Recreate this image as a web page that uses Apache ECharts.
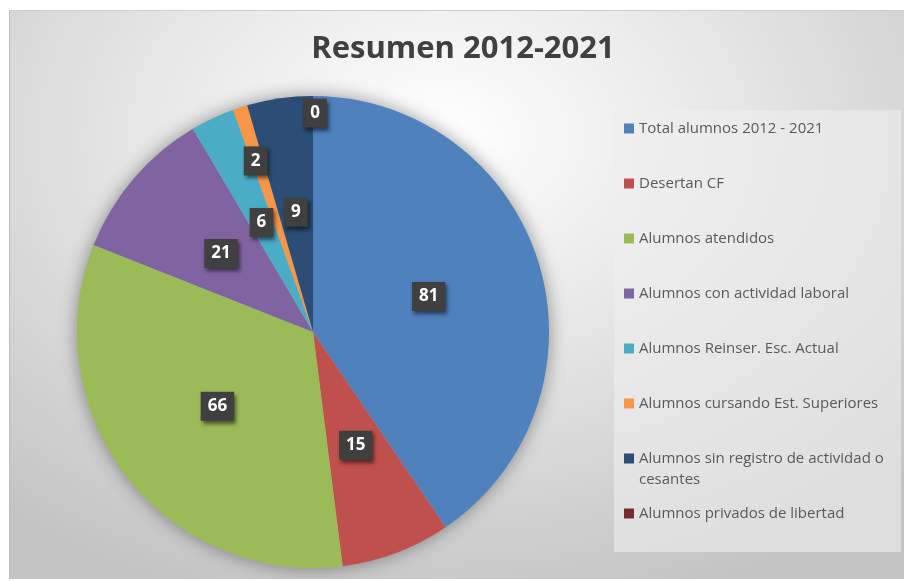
<!DOCTYPE html>
<html>
<head>
<meta charset="utf-8">
<script src="https://cdn.jsdelivr.net/npm/echarts@6/dist/echarts.min.js"></script>
<style>
  html, body { margin: 0; padding: 0; background: #ffffff; }
  #frame {
    position: absolute; left: 9px; top: 10px; width: 895px; height: 569px;
    background: radial-gradient(ellipse 75% 85% at 48% 22%, #ffffff 0%, #e6e6e6 45%, #c4c4c4 100%);
    border-left: 1px solid #bdbdbd; border-top: 1px solid #cfcfcf;
    box-sizing: border-box;
  }
  #echart-pie { width: 100%; height: 100%; }
</style>
</head>
<body>
<div id="frame"><div id="echart-pie"></div></div>
<script>
// categorías y valores
var categories = [
  'Total alumnos 2012 - 2021',
  'Desertan CF',
  'Alumnos atendidos',
  'Alumnos con actividad laboral',
  'Alumnos Reinser. Esc. Actual',
  'Alumnos cursando Est. Superiores',
  'Alumnos sin registro de actividad o cesantes',
  'Alumnos privados de libertad'
];
var values = [81, 15, 66, 21, 6, 2, 9, 0];
var colors = ['#4F81BD', '#C0504D', '#9BBB59', '#8064A2', '#4BACC6', '#F79646', '#2C4D75', '#772C2A'];

var getchart = echarts.init(document.getElementById('echart-pie'));

var pieData = categories.map(function (name, i) {
  return { name: name, value: values[i], itemStyle: { color: colors[i] } };
});

var legendText = {
  fontFamily: 'Open Sans',
  fontSize: 15,
  color: '#595959',
  width: 258,
  overflow: 'break',
  lineHeight: 21
};

var option = {
  backgroundColor: 'transparent',
  animation: false,
  title: {
    text: 'Resumen 2012-2021',
    left: 448,
    textAlign: 'center',
    top: 18,
    textStyle: {
      fontFamily: 'Open Sans',
      fontSize: 31,
      fontWeight: 'bold',
      color: '#404040'
    }
  },
  // tres leyendas para que la entrada de dos líneas quede alineada como en Excel
  legend: [
    {
      orient: 'vertical',
      left: 604,
      top: 99,
      data: categories.slice(0, 6),
      icon: 'rect',
      itemWidth: 10,
      itemHeight: 10,
      itemGap: 34,
      padding: [8, 4, 138, 10],
      backgroundColor: 'rgba(238,238,238,0.6)',
      textStyle: legendText
    },
    {
      orient: 'vertical',
      left: 614,
      top: 437,
      data: categories.slice(6, 7),
      icon: 'path://M0,0h10v10h-10zM0,31h0.01',
      itemWidth: 10,
      itemHeight: 31,
      padding: 0,
      textStyle: legendText
    },
    {
      orient: 'vertical',
      left: 614,
      top: 492,
      data: categories.slice(7),
      icon: 'rect',
      itemWidth: 10,
      itemHeight: 10,
      padding: 0,
      textStyle: legendText
    }
  ],
  series: [
    {
      // sombra del círculo
      type: 'pie',
      silent: true,
      center: [303, 321],
      radius: 236,
      z: 1,
      label: { show: false },
      labelLine: { show: false },
      data: [{ value: 1, name: '', itemStyle: { color: '#b0b0b0', shadowBlur: 18, shadowColor: 'rgba(0,0,0,0.4)' } }]
    },
    {
      name: 'Resumen',
      type: 'pie',
      center: [303, 321],
      radius: 236,
      startAngle: 90,
      clockwise: true,
      z: 2,
      itemStyle: { borderWidth: 0 },
      label: {
        show: true,
        position: 'inside',
        formatter: '{c}',
        color: '#ffffff',
        fontFamily: 'Open Sans',
        fontWeight: 'bold',
        fontSize: 17,
        backgroundColor: '#404040',
        padding: [6, 7, 6, 7],
        shadowColor: 'rgba(0,0,0,0.55)',
        shadowBlur: 4,
        shadowOffsetX: 2,
        shadowOffsetY: 3
      },
      labelLine: { show: false },
      labelLayout: function (params) {
        // etiquetas desplazadas como en el original
        if (params.dataIndex === 5) return { dx: -20, dy: -56 };
        if (params.dataIndex === 7) return { dx: 2, dy: -98 };
      },
      data: pieData
    }
  ]
};

getchart.setOption(option);
window.addEventListener('resize', function () {
  getchart.resize();
});
</script>
</body>
</html>
